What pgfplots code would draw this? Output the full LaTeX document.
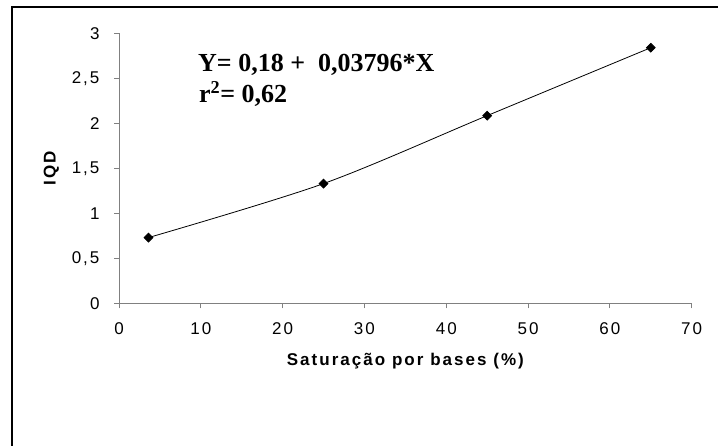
\documentclass[border=0pt]{standalone}
\usepackage{fontspec}
\usepackage{pgfplots}
\pgfplotsset{compat=1.18}
\newfontfamily\arialf{Liberation Sans}[LetterSpace=12]
\newfontfamily\timesf{Liberation Serif}
\begin{document}
\begin{tikzpicture}[x=1pt,y=1pt]
\path[use as bounding box] (0,0) rectangle (718,445);
\draw[line width=2pt] (11.5,-2) -- (11.5,437.5) -- (720,437.5);
\begin{axis}[
  at={(119pt,141.7pt)}, anchor=origin, scale only axis,
  width=572.7pt, height=270pt,
  xmin=0, xmax=70, ymin=0, ymax=3,
  xtick={0,10,20,30,40,50,60,70},
  ytick={0,0.5,1,1.5,2,2.5,3},
  axis lines=left,
  axis line style={-, color=gray, line width=1pt},
  tick align=outside, major tick length=5pt,
  tick style={color=gray, line width=1pt},
  ticklabel style={font=\arialf\fontsize{17}{20}\selectfont, text=black},
  yticklabel style={xshift=-11pt},
  xticklabel style={yshift=-11pt},
  /pgf/number format/assume math mode=true,
  /pgf/number format/use comma,
  xlabel={Saturação por bases (\%)}, ylabel={IQD},
  label style={font=\arialf\bfseries\fontsize{17}{20}\selectfont},
  xlabel shift=11pt, ylabel shift=6pt,
  clip=false
]
\addplot[black, line width=0.8pt, smooth, tension=0.5, mark=square*, mark size=3.1pt,
  mark options={solid, fill=black, rotate=45}]
  coordinates {(3.6,0.73) (25,1.33) (45,2.085) (65,2.84)};
\end{axis}
\node[anchor=base west, inner sep=0pt, font=\timesf\bfseries\fontsize{26}{31}\selectfont] at (198,373.3) {Y= 0,18 +\ \ 0,03796*X};
\node[anchor=base west, inner sep=0pt, font=\timesf\bfseries\fontsize{26}{31}\selectfont] at (199,342.5) {r\textsuperscript{2}= 0,62};
\end{tikzpicture}
\end{document}
